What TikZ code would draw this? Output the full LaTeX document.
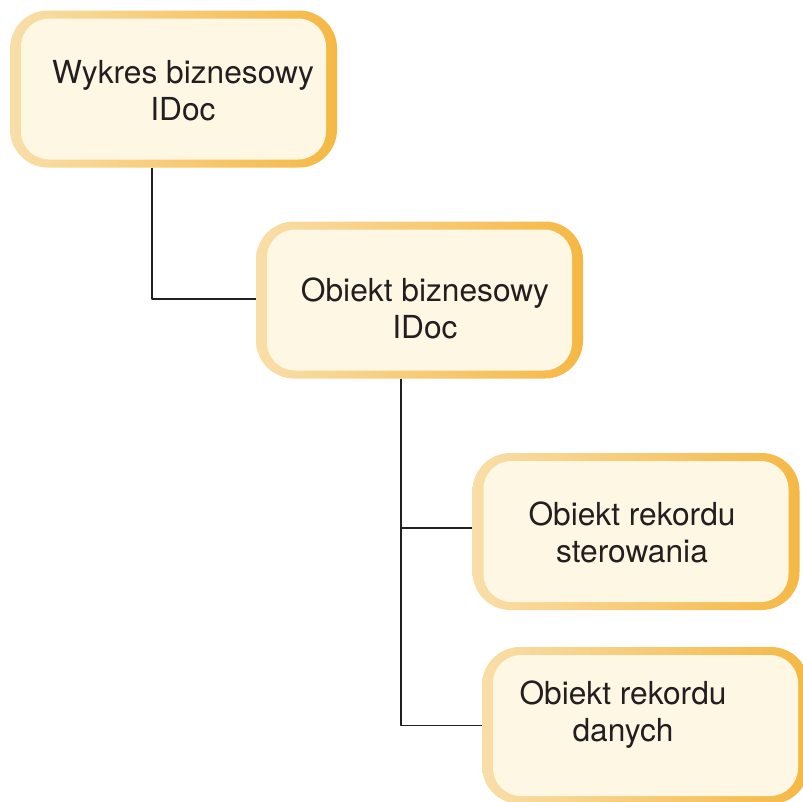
\documentclass[tikz,border=0pt]{standalone}
\usepackage{fontspec}
\setmainfont{TeX Gyre Heros}
\definecolor{boxfill}{RGB}{253,247,228}
\definecolor{boxleft}{RGB}{249,222,168}
\definecolor{boxright}{RGB}{245,184,68}
\definecolor{linegray}{RGB}{35,31,32}
\tikzset{
  box/.style={rounded corners=38pt, minimum width=327pt, minimum height=157pt,
    left color=boxleft, right color=boxright, inner sep=0pt,
    path picture={\fill[boxfill, rounded corners=28pt]
      ([shift={(11pt,-8pt)}]path picture bounding box.north west) rectangle
      ([shift={(-11pt,8pt)}]path picture bounding box.south east);}},
  boxtext/.style={align=center, inner sep=0pt, text=linegray,
    font=\fontsize{31.7}{37}\selectfont},
  link/.style={draw=linegray, line width=1.9pt}
}
\begin{document}
\begin{tikzpicture}[x=1pt,y=-1pt,line join=round]
\clip (0,0) rectangle (803,801);
\fill[white] (0,0) rectangle (803,801);
\node[box] (wykres) at (173.5,89) {};
\node[box] (obiekt) at (419.5,300) {};
\node[box] (sterow) at (636,531.5) {};
\node[box] (dane) at (645.5,725.5) {};
\node[boxtext] (wykres-t) at (183,91) {Wykres biznesowy\\IDoc};
\node[boxtext] (obiekt-t) at (425,308) {Obiekt biznesowy\\IDoc};
\node[boxtext] (sterow-t) at (632,532.5) {Obiekt rekordu\\sterowania};
\node[boxtext] (dane-t) at (623,715) {Obiekt rekordu\\danych};
\coordinate (pien1) at ([xshift=-21.5pt]wykres.south);
\coordinate (pien2) at ([xshift=-18.5pt]obiekt.south);
\draw[link] (pien1) |- ([yshift=1pt]obiekt.west);
\draw[link] (pien2) |- (dane.west);
\draw[link] (pien2 |- sterow.west) ++(0,-3.5) -- ([yshift=3.5pt]sterow.west);
\end{tikzpicture}
\end{document}
